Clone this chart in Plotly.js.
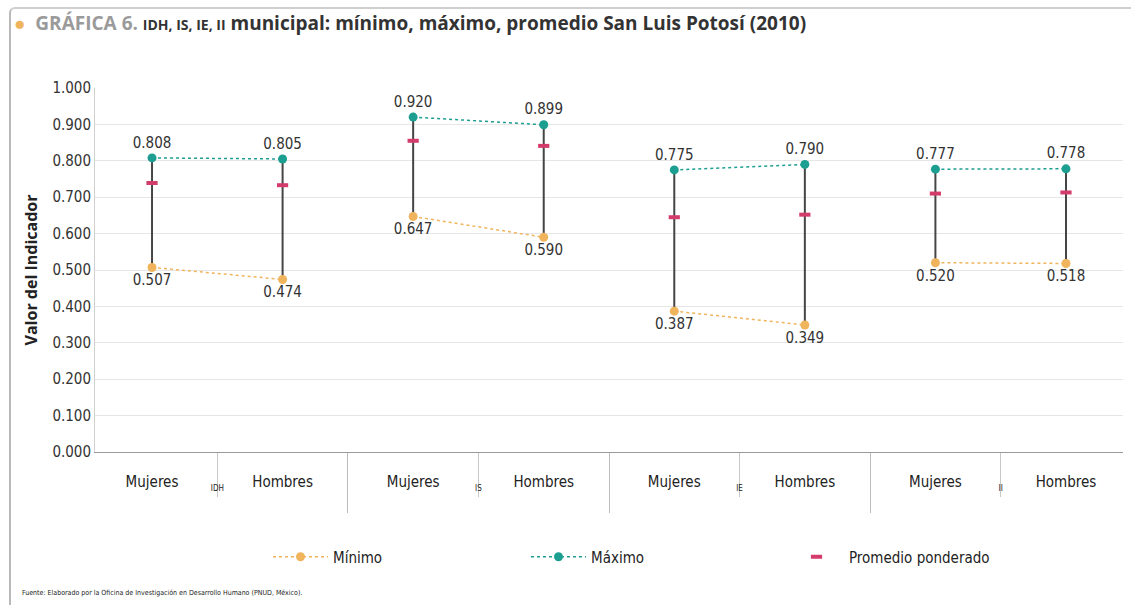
<!DOCTYPE html>
<html>
<head>
<meta charset="utf-8">
<script src="https://cdn.plot.ly/plotly-3.0.1.min.js"></script>
<style>
  html, body { margin: 0; padding: 0; background: #fff; }
  #wrap { position: relative; width: 1131px; height: 607px; }
  #frame { position: absolute; left: 9px; top: 7px; width: 1130px; height: 596px;
           border-left: 2px solid #b9b9b9; border-top: 2px solid #cfcfcf; border-top-left-radius: 6px; pointer-events: none; }
  #chart { position: absolute; left: 0; top: 0; width: 1131px; height: 607px; }
</style>
</head>
<body>
<div id="wrap">
  <div id="chart"></div>
  <div id="frame"></div>
</div>
<script>
// ---- data ----
const groups = ['IDH', 'IS', 'IE', 'II'];
const sexes = ['Mujeres', 'Hombres'];
const minimo = [0.507, 0.474, 0.647, 0.590, 0.387, 0.349, 0.520, 0.518];
const maximo = [0.808, 0.805, 0.920, 0.899, 0.775, 0.790, 0.777, 0.778];
const promedio = [0.739, 0.733, 0.855, 0.841, 0.645, 0.652, 0.710, 0.713];

// ---- styling ----
const narrow = '"Liberation Sans Narrow", "DejaVu Sans Condensed", "Arial Narrow", "Noto Sans", sans-serif';
const cTeal = '#1c9f91', cOrange = '#f0b45c', cRed = '#d33b6b', cBar = '#454545';

// label wrapper (visual spacing only; visible text is unchanged)
function groupLabel(g) { return '<span style="font-size:8px">' + g + '</span><br><span style="font-size:10px">&nbsp;</span>'; }

const traces = [];
groups.forEach((g, gi) => {
  const xs = [[groupLabel(g), groupLabel(g)], sexes.slice()];
  const mx = [maximo[2*gi], maximo[2*gi+1]];
  const mn = [minimo[2*gi], minimo[2*gi+1]];
  traces.push({
    type: 'scatter', mode: 'lines+markers+text', x: xs, y: mx,
    name: 'Máximo', legendgroup: 'max', showlegend: gi === 0, legendrank: 2,
    line: {color: cTeal, dash: 'dot', width: 1.5},
    marker: {color: cTeal, size: 9},
    text: mx.map(v => v.toFixed(3)), textposition: 'top center',
    textfont: {family: narrow, size: 15, color: '#333'},
    error_y: {type: 'data', symmetric: false, array: [0, 0],
              arrayminus: mx.map((v, i) => v - mn[i]),
              color: cBar, thickness: 2, width: 0},
    cliponaxis: false, hoverinfo: 'y'
  });
});
groups.forEach((g, gi) => {
  const xs = [[groupLabel(g), groupLabel(g)], sexes.slice()];
  const mn = [minimo[2*gi], minimo[2*gi+1]];
  traces.push({
    type: 'scatter', mode: 'lines+markers+text', x: xs, y: mn,
    name: 'Mínimo', legendgroup: 'min', showlegend: gi === 0, legendrank: 1,
    line: {color: cOrange, dash: 'dot', width: 1.5},
    marker: {color: cOrange, size: 9},
    text: mn.map(v => v.toFixed(3)), textposition: 'bottom center',
    textfont: {family: narrow, size: 15, color: '#333'},
    cliponaxis: false, hoverinfo: 'y'
  });
});
const allX = [[], []];
groups.forEach(g => sexes.forEach(s => { allX[0].push(groupLabel(g)); allX[1].push(s); }));
traces.push({
  type: 'scatter', mode: 'markers', x: allX, y: promedio,
  name: 'Promedio ponderado', legendrank: 3,
  marker: {symbol: 'line-ew', size: 8, line: {color: cRed, width: 4}, color: cRed},
  hoverinfo: 'y'
});

const layout = {
  width: 1131, height: 607,
  margin: {l: 95, r: 8, t: 88, b: 155},
  paper_bgcolor: 'rgba(0,0,0,0)', plot_bgcolor: '#fff',
  showlegend: true,
  title: {
    text: '<span style="color:#f0b45c">●</span>  <span style="color:#9a9a9a">GRÁFICA 6.</span> <span style="font-size:14px">IDH, IS, IE, II</span> municipal: mínimo, máximo, promedio San Luis Potosí (2010)',
    font: {family: '"Open Sans", "Noto Sans", sans-serif', size: 19, color: '#333', weight: 'bold'},
    xref: 'container', yref: 'container', x: 14/1131, xanchor: 'left', y: 1 - 23/607, yanchor: 'middle'
  },
  xaxis: {
    type: 'multicategory',
    showgrid: false, showline: true, linecolor: '#9a9a9a', linewidth: 1,
    showdividers: true, dividercolor: '#bdbdbd', dividerwidth: 1,
    ticks: 'outside', tickson: 'boundaries', ticklen: 44, tickcolor: '#c8c8c8',
    ticklabelstandoff: 16,
    tickfont: {family: narrow, size: 15, color: '#222'},
    zeroline: false
  },
  yaxis: {
    range: [0, 1.0], dtick: 0.1, tickformat: '.3f',
    showgrid: true, gridcolor: '#e6e6e6', gridwidth: 1,
    showline: true, linecolor: '#d0d0d0', zeroline: false,
    tickfont: {family: narrow, size: 15, color: '#333'},
    title: {text: 'Valor del Indicador', standoff: 10,
            font: {family: '"Open Sans", "Noto Sans", sans-serif', size: 16, color: '#222', weight: 'bold'}}
  },
  legend: {
    orientation: 'h', x: (268 - 95) / 1028, xanchor: 'left', y: (452 - 557) / 364, yanchor: 'middle',
    font: {family: narrow, size: 15, color: '#222'}, itemwidth: 55, traceorder: 'normal',
    entrywidth: 188
  },
  annotations: [{
    text: 'Fuente: Elaborado por la Oficina de Investigación en Desarrollo Humano (PNUD, México).',
    xref: 'paper', yref: 'paper', x: (20 - 95) / 1028, y: (452 - 593) / 364,
    xanchor: 'left', yanchor: 'middle', showarrow: false,
    font: {family: narrow, size: 7, color: '#222'}
  }]
};

Plotly.newPlot('chart', traces, layout, {displayModeBar: false, staticPlot: true});
</script>
</body>
</html>
